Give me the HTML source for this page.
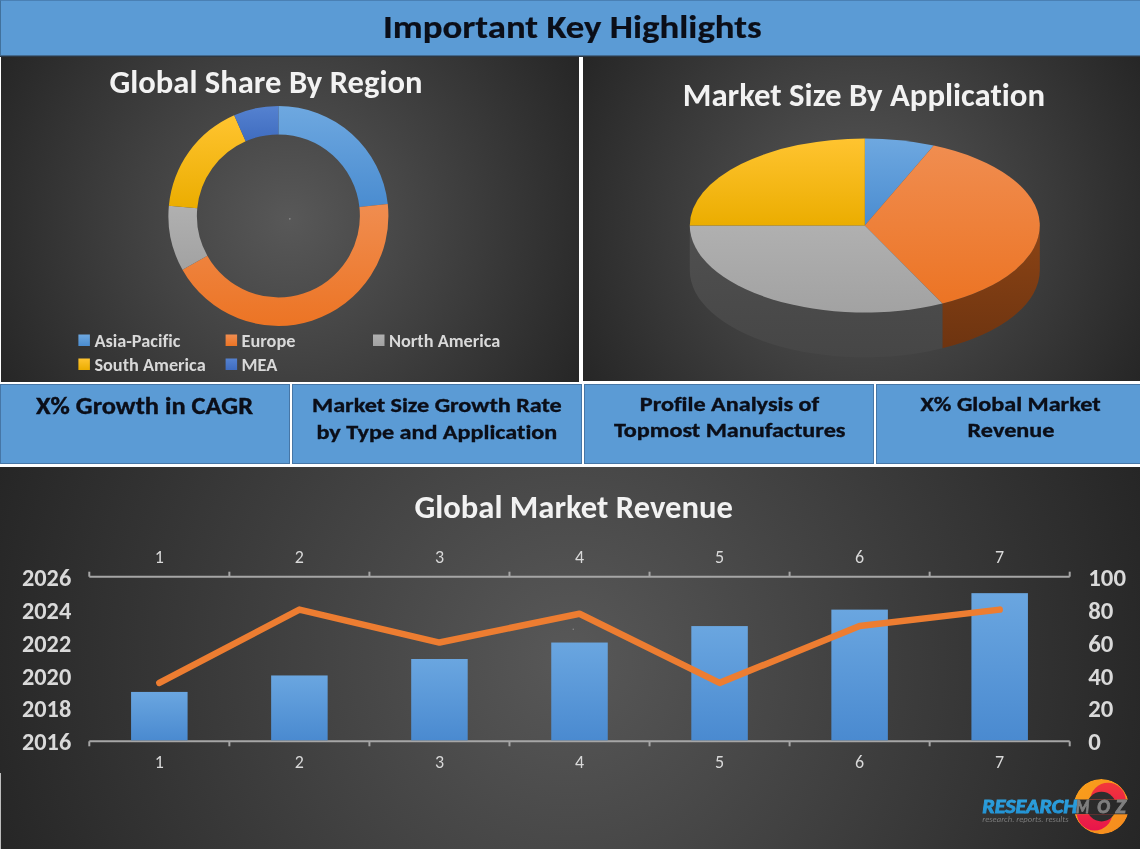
<!DOCTYPE html>
<html>
<head>
<meta charset="utf-8">
<style>
html,body{margin:0;padding:0;}
body{width:1140px;height:849px;overflow:hidden;background:#fff;position:relative;font-family:"Carlito","Liberation Sans",sans-serif;font-variant-ligatures:none;font-feature-settings:"liga" 0,"clig" 0;}
svg text{font-variant-ligatures:none;font-feature-settings:"liga" 0,"clig" 0;}
.abs{position:absolute;}
#hdr{left:0;top:0;width:1140px;height:55px;background:#5b9bd5;border-top:1px solid #4a80b4;border-left:1px solid #41719c;box-sizing:border-box;}
#hdr span{position:absolute;left:0;width:1140px;top:6px;text-align:center;font-weight:bold;font-size:36px;color:#0c0c0c;}
#hdrline{left:0;top:55px;width:1140px;height:2px;background:linear-gradient(#44698d 0%,#44698d 50%,#2b3845 50%,#2b3845 100%);}
.panel{background:#2a2a2a;}
#p1{left:1px;top:57px;width:578px;height:325px;background:radial-gradient(circle farthest-corner at 50% 50%,#585858 0%,#262626 100%);}
#p2{left:583px;top:57px;width:557px;height:324px;background:radial-gradient(circle farthest-corner at 50% 50%,#585858 0%,#262626 100%);}
#p3{left:0;top:467px;width:1140px;height:382px;background:radial-gradient(circle farthest-corner at 50% 50%,#585858 0%,#262626 100%);}
.box{background:#5b9bd5;border:1px solid #4676a6;box-sizing:border-box;top:384px;height:80px;}
.box div{position:absolute;left:0;right:0;text-align:center;font-weight:bold;color:#0a0f18;}
.t{font-weight:bold;color:#f2f2f2;white-space:nowrap;}
</style>
</head>
<body>
<div id="hdr" class="abs"></div>
<div id="hdrline" class="abs"></div>

<div id="p1" class="abs panel"></div>
<div id="p2" class="abs panel"></div>
<div id="p3" class="abs panel"></div>
<div class="abs" style="left:0;top:773px;width:1px;height:76px;background:#bdbdbd;"></div>

<div class="abs box" style="left:0;width:290px;"></div>
<div class="abs box" style="left:292px;width:290px;"></div>
<div class="abs box" style="left:584px;width:290px;"></div>
<div class="abs box" style="left:876px;width:270px;"></div>

<svg class="abs" style="left:0;top:0" width="1140" height="849" viewBox="0 0 1140 849">
  <defs>
    <linearGradient id="gBlue" x1="0" y1="0" x2="0" y2="1"><stop offset="0" stop-color="#6ea8e0"/><stop offset="1" stop-color="#4a8cd0"/></linearGradient>
    <linearGradient id="gOrange" x1="0" y1="0" x2="0" y2="1"><stop offset="0" stop-color="#f08d50"/><stop offset="1" stop-color="#ec7424"/></linearGradient>
    <linearGradient id="gGray" x1="0" y1="0" x2="0" y2="1"><stop offset="0" stop-color="#b8b8b8"/><stop offset="1" stop-color="#a0a0a0"/></linearGradient>
    <linearGradient id="gYellow" x1="0" y1="0" x2="0" y2="1"><stop offset="0" stop-color="#ffc535"/><stop offset="1" stop-color="#f0b400"/></linearGradient>
    <linearGradient id="gDBlue" x1="0" y1="0" x2="0" y2="1"><stop offset="0" stop-color="#5582d0"/><stop offset="1" stop-color="#3f6cc0"/></linearGradient>
    <linearGradient id="gBar" x1="0" y1="0" x2="0" y2="1"><stop offset="0" stop-color="#6aa6e0"/><stop offset="1" stop-color="#4a8ad0"/></linearGradient>
    <linearGradient id="gSideO" x1="0" y1="0" x2="0" y2="1"><stop offset="0" stop-color="#8c4415"/><stop offset="1" stop-color="#6e3410"/></linearGradient>
    <linearGradient id="gSideG" x1="0" y1="0" x2="0" y2="1"><stop offset="0" stop-color="#505050"/><stop offset="1" stop-color="#464646"/></linearGradient>
    <linearGradient id="gGray2" x1="0" y1="0" x2="0" y2="1"><stop offset="0" stop-color="#b0b0b0"/><stop offset="1" stop-color="#a2a2a2"/></linearGradient>
    <linearGradient id="gYellow2" x1="0" y1="0" x2="0" y2="1"><stop offset="0" stop-color="#ffc430"/><stop offset="1" stop-color="#ebad00"/></linearGradient>
  </defs>
  <g id="donut" font-family="Carlito, Liberation Sans, sans-serif"><path d="M278.4,105.9A110,110 0 0 1 387.76,204.02L359.42,207.1A81.5,81.5 0 0 0 278.4,134.4Z" fill="url(#gBlue)"/><path d="M387.76,204.02A110,110 0 0 1 182.47,269.73L207.33,255.78A81.5,81.5 0 0 0 359.42,207.1Z" fill="url(#gOrange)"/><path d="M182.47,269.73A110,110 0 0 1 168.87,205.74L197.25,208.37A81.5,81.5 0 0 0 207.33,255.78Z" fill="url(#gGray2)"/><path d="M168.87,205.74A110,110 0 0 1 234.19,115.18L245.64,141.27A81.5,81.5 0 0 0 197.25,208.37Z" fill="url(#gYellow2)"/><path d="M234.19,115.18A110,110 0 0 1 278.4,105.9L278.4,134.4A81.5,81.5 0 0 0 245.64,141.27Z" fill="url(#gDBlue)"/><circle cx="289.8" cy="218.8" r="0.9" fill="#8a8a8a"/><rect x="78.4" y="334.5" width="11.5" height="11.5" fill="url(#gBlue)"/><text textLength="85.95" lengthAdjust="spacingAndGlyphs" x="94.4" y="346.9" font-size="18.3" font-weight="bold" fill="#d9d9d9">Asia-Pacific</text><rect x="225.6" y="334.5" width="11.5" height="11.5" fill="url(#gOrange)"/><text textLength="53.86" lengthAdjust="spacingAndGlyphs" x="241.6" y="346.9" font-size="18.3" font-weight="bold" fill="#d9d9d9">Europe</text><rect x="373" y="334.5" width="11.5" height="11.5" fill="url(#gGray2)"/><text textLength="111.36" lengthAdjust="spacingAndGlyphs" x="389" y="346.9" font-size="18.3" font-weight="bold" fill="#d9d9d9">North America</text><rect x="78.4" y="358.5" width="11.5" height="11.5" fill="url(#gYellow2)"/><text textLength="111.28" lengthAdjust="spacingAndGlyphs" x="94.4" y="370.9" font-size="18.3" font-weight="bold" fill="#d9d9d9">South America</text><rect x="225.6" y="358.5" width="11.5" height="11.5" fill="url(#gDBlue)"/><text textLength="35.77" lengthAdjust="spacingAndGlyphs" x="241.6" y="370.9" font-size="18.3" font-weight="bold" fill="#d9d9d9">MEA</text></g>
  <g id="pie3d"><path d="M1039.8,225.5A175,87 0 0 1 942.34,303.49L942.34,348.29A175,87 0 0 0 1039.8,270.3Z" fill="url(#gSideO)"/><path d="M942.34,303.49A175,87 0 0 1 689.8,225.5L689.8,270.3A175,87 0 0 0 942.34,348.29Z" fill="url(#gSideG)"/><path d="M864.8,225.5L864.8,138.5A175,87 0 0 1 933.74,145.54Z" fill="url(#gBlue)"/><path d="M864.8,225.5L933.74,145.54A175,87 0 0 1 942.34,303.49Z" fill="url(#gOrange)"/><path d="M864.8,225.5L942.34,303.49A175,87 0 0 1 689.8,225.5Z" fill="url(#gGray2)"/><path d="M864.8,225.5L689.8,225.5A175,87 0 0 1 864.8,138.5Z" fill="url(#gYellow2)"/></g>
  <g id="chart" font-family="Carlito, Liberation Sans, sans-serif"><line x1="89.3" y1="576.7" x2="1069.7" y2="576.7" stroke="#a6a6a6" stroke-width="2"/><line x1="89.3" y1="741.3" x2="1069.7" y2="741.3" stroke="#a6a6a6" stroke-width="2"/><line x1="89.3" y1="576.7" x2="89.3" y2="571.7" stroke="#a6a6a6" stroke-width="2"/><line x1="89.3" y1="741.3" x2="89.3" y2="746.3" stroke="#a6a6a6" stroke-width="2"/><line x1="229.36" y1="576.7" x2="229.36" y2="571.7" stroke="#a6a6a6" stroke-width="2"/><line x1="229.36" y1="741.3" x2="229.36" y2="746.3" stroke="#a6a6a6" stroke-width="2"/><line x1="369.41" y1="576.7" x2="369.41" y2="571.7" stroke="#a6a6a6" stroke-width="2"/><line x1="369.41" y1="741.3" x2="369.41" y2="746.3" stroke="#a6a6a6" stroke-width="2"/><line x1="509.47" y1="576.7" x2="509.47" y2="571.7" stroke="#a6a6a6" stroke-width="2"/><line x1="509.47" y1="741.3" x2="509.47" y2="746.3" stroke="#a6a6a6" stroke-width="2"/><line x1="649.53" y1="576.7" x2="649.53" y2="571.7" stroke="#a6a6a6" stroke-width="2"/><line x1="649.53" y1="741.3" x2="649.53" y2="746.3" stroke="#a6a6a6" stroke-width="2"/><line x1="789.59" y1="576.7" x2="789.59" y2="571.7" stroke="#a6a6a6" stroke-width="2"/><line x1="789.59" y1="741.3" x2="789.59" y2="746.3" stroke="#a6a6a6" stroke-width="2"/><line x1="929.64" y1="576.7" x2="929.64" y2="571.7" stroke="#a6a6a6" stroke-width="2"/><line x1="929.64" y1="741.3" x2="929.64" y2="746.3" stroke="#a6a6a6" stroke-width="2"/><line x1="1069.7" y1="576.7" x2="1069.7" y2="571.7" stroke="#a6a6a6" stroke-width="2"/><line x1="1069.7" y1="741.3" x2="1069.7" y2="746.3" stroke="#a6a6a6" stroke-width="2"/><rect x="131.08" y="691.92" width="56.5" height="48.38" fill="url(#gBar)"/><rect x="271.14" y="675.46" width="56.5" height="64.84" fill="url(#gBar)"/><rect x="411.19" y="659" width="56.5" height="81.3" fill="url(#gBar)"/><rect x="551.25" y="642.54" width="56.5" height="97.76" fill="url(#gBar)"/><rect x="691.31" y="626.08" width="56.5" height="114.22" fill="url(#gBar)"/><rect x="831.36" y="609.62" width="56.5" height="130.68" fill="url(#gBar)"/><rect x="971.42" y="593.16" width="56.5" height="147.14" fill="url(#gBar)"/><polyline points="159.33,682.87 299.39,609.62 439.44,642.54 579.5,613.74 719.56,682.87 859.61,626.08 999.67,609.62" fill="none" stroke="#ed7d31" stroke-width="6.5" stroke-linejoin="round" stroke-linecap="round"/><circle cx="573.3" cy="629.3" r="0.8" fill="#8a8a8a"/><text textLength="9.12" lengthAdjust="spacingAndGlyphs" x="159.33" y="563" font-size="18" fill="#d9d9d9" text-anchor="middle">1</text><text textLength="9.12" lengthAdjust="spacingAndGlyphs" x="159.33" y="768" font-size="18" fill="#d9d9d9" text-anchor="middle">1</text><text textLength="9.12" lengthAdjust="spacingAndGlyphs" x="299.39" y="563" font-size="18" fill="#d9d9d9" text-anchor="middle">2</text><text textLength="9.12" lengthAdjust="spacingAndGlyphs" x="299.39" y="768" font-size="18" fill="#d9d9d9" text-anchor="middle">2</text><text textLength="9.12" lengthAdjust="spacingAndGlyphs" x="439.44" y="563" font-size="18" fill="#d9d9d9" text-anchor="middle">3</text><text textLength="9.12" lengthAdjust="spacingAndGlyphs" x="439.44" y="768" font-size="18" fill="#d9d9d9" text-anchor="middle">3</text><text textLength="9.12" lengthAdjust="spacingAndGlyphs" x="579.5" y="563" font-size="18" fill="#d9d9d9" text-anchor="middle">4</text><text textLength="9.12" lengthAdjust="spacingAndGlyphs" x="579.5" y="768" font-size="18" fill="#d9d9d9" text-anchor="middle">4</text><text textLength="9.12" lengthAdjust="spacingAndGlyphs" x="719.56" y="563" font-size="18" fill="#d9d9d9" text-anchor="middle">5</text><text textLength="9.12" lengthAdjust="spacingAndGlyphs" x="719.56" y="768" font-size="18" fill="#d9d9d9" text-anchor="middle">5</text><text textLength="9.12" lengthAdjust="spacingAndGlyphs" x="859.61" y="563" font-size="18" fill="#d9d9d9" text-anchor="middle">6</text><text textLength="9.12" lengthAdjust="spacingAndGlyphs" x="859.61" y="768" font-size="18" fill="#d9d9d9" text-anchor="middle">6</text><text textLength="9.12" lengthAdjust="spacingAndGlyphs" x="999.67" y="563" font-size="18" fill="#d9d9d9" text-anchor="middle">7</text><text textLength="9.12" lengthAdjust="spacingAndGlyphs" x="999.67" y="768" font-size="18" fill="#d9d9d9" text-anchor="middle">7</text><text textLength="47.63" lengthAdjust="spacingAndGlyphs" transform="translate(71.2,750.4) scale(1.035,1)" font-size="23.5" font-weight="bold" fill="#d9d9d9" text-anchor="end">2016</text><text textLength="11.91" lengthAdjust="spacingAndGlyphs" transform="translate(1088.3,750.4) scale(1.056,1)" font-size="23.5" font-weight="bold" fill="#d9d9d9">0</text><text textLength="47.63" lengthAdjust="spacingAndGlyphs" transform="translate(71.2,717.48) scale(1.035,1)" font-size="23.5" font-weight="bold" fill="#d9d9d9" text-anchor="end">2018</text><text textLength="23.82" lengthAdjust="spacingAndGlyphs" transform="translate(1088.3,717.48) scale(1.056,1)" font-size="23.5" font-weight="bold" fill="#d9d9d9">20</text><text textLength="47.63" lengthAdjust="spacingAndGlyphs" transform="translate(71.2,684.56) scale(1.035,1)" font-size="23.5" font-weight="bold" fill="#d9d9d9" text-anchor="end">2020</text><text textLength="23.82" lengthAdjust="spacingAndGlyphs" transform="translate(1088.3,684.56) scale(1.056,1)" font-size="23.5" font-weight="bold" fill="#d9d9d9">40</text><text textLength="47.63" lengthAdjust="spacingAndGlyphs" transform="translate(71.2,651.64) scale(1.035,1)" font-size="23.5" font-weight="bold" fill="#d9d9d9" text-anchor="end">2022</text><text textLength="23.82" lengthAdjust="spacingAndGlyphs" transform="translate(1088.3,651.64) scale(1.056,1)" font-size="23.5" font-weight="bold" fill="#d9d9d9">60</text><text textLength="47.63" lengthAdjust="spacingAndGlyphs" transform="translate(71.2,618.72) scale(1.035,1)" font-size="23.5" font-weight="bold" fill="#d9d9d9" text-anchor="end">2024</text><text textLength="23.82" lengthAdjust="spacingAndGlyphs" transform="translate(1088.3,618.72) scale(1.056,1)" font-size="23.5" font-weight="bold" fill="#d9d9d9">80</text><text textLength="47.63" lengthAdjust="spacingAndGlyphs" transform="translate(71.2,585.8) scale(1.035,1)" font-size="23.5" font-weight="bold" fill="#d9d9d9" text-anchor="end">2026</text><text textLength="35.72" lengthAdjust="spacingAndGlyphs" transform="translate(1088.3,585.8) scale(1.056,1)" font-size="23.5" font-weight="bold" fill="#d9d9d9">100</text></g>
  <g id="texts" font-family="Carlito, Liberation Sans, sans-serif"><text textLength="335.25" lengthAdjust="spacingAndGlyphs" transform="translate(572.3,37.6) scale(1.13,1)" font-size="32.6" font-weight="bold" fill="#0b0e18" text-anchor="middle" stroke="#0b0e18" stroke-width="0.2">Important Key Highlights</text><text textLength="309.85" lengthAdjust="spacingAndGlyphs" transform="translate(266,92.9) scale(1.01,1)" font-size="32.3" font-weight="bold" fill="#f2f2f2" text-anchor="middle">Global Share By Region</text><text textLength="356.98" lengthAdjust="spacingAndGlyphs" transform="translate(863.9,106) scale(1.015,1)" font-size="32.3" font-weight="bold" fill="#f2f2f2" text-anchor="middle">Market Size By Application</text><text textLength="312.19" lengthAdjust="spacingAndGlyphs" transform="translate(573.7,517.6) scale(1.02,1)" font-size="32" font-weight="bold" fill="#f2f2f2" text-anchor="middle">Global Market Revenue</text><text textLength="192.03" lengthAdjust="spacingAndGlyphs" transform="translate(144.5,413.9) scale(1.13,1)" font-size="23.4" font-weight="bold" fill="#0b0e18" text-anchor="middle" stroke="#0b0e18" stroke-width="0.35">X% Growth in CAGR</text><text textLength="211.64" lengthAdjust="spacingAndGlyphs" transform="translate(436.9,412.2) scale(1.18,1)" font-size="20.5" font-weight="bold" fill="#0b0e18" text-anchor="middle" stroke="#0b0e18" stroke-width="0.35">Market Size Growth Rate</text><text textLength="204.08" lengthAdjust="spacingAndGlyphs" transform="translate(436.9,438.5) scale(1.18,1)" font-size="20.5" font-weight="bold" fill="#0b0e18" text-anchor="middle" stroke="#0b0e18" stroke-width="0.35">by Type and Application</text><text textLength="152.08" lengthAdjust="spacingAndGlyphs" transform="translate(729.5,410.7) scale(1.18,1)" font-size="20.5" font-weight="bold" fill="#0b0e18" text-anchor="middle" stroke="#0b0e18" stroke-width="0.35">Profile Analysis of</text><text textLength="196.22" lengthAdjust="spacingAndGlyphs" transform="translate(729.7,436.9) scale(1.18,1)" font-size="20.5" font-weight="bold" fill="#0b0e18" text-anchor="middle" stroke="#0b0e18" stroke-width="0.35">Topmost Manufactures</text><text textLength="152.58" lengthAdjust="spacingAndGlyphs" transform="translate(1010.5,410.7) scale(1.18,1)" font-size="20.5" font-weight="bold" fill="#0b0e18" text-anchor="middle" stroke="#0b0e18" stroke-width="0.35">X% Global Market</text><text textLength="73.57" lengthAdjust="spacingAndGlyphs" transform="translate(1011,436.9) scale(1.18,1)" font-size="20.5" font-weight="bold" fill="#0b0e18" text-anchor="middle" stroke="#0b0e18" stroke-width="0.35">Revenue</text></g>
  <g id="logo" font-family="Carlito, Liberation Sans, sans-serif"><defs><clipPath id="cTop"><rect x="1060" y="770" width="80" height="29.4"/></clipPath><clipPath id="cBot"><rect x="1060" y="814.2" width="80" height="40"/></clipPath><clipPath id="cRing"><circle cx="1101.3" cy="806.6" r="27.6"/></clipPath><linearGradient id="gLogoO" x1="0" y1="0" x2="1" y2="1"><stop offset="0" stop-color="#f9a01b"/><stop offset="1" stop-color="#f58a1f"/></linearGradient><linearGradient id="gLogoR" x1="0" y1="0" x2="0" y2="1"><stop offset="0" stop-color="#f2393a"/><stop offset="1" stop-color="#e8144c"/></linearGradient><linearGradient id="gRes" x1="0" y1="0" x2="0" y2="1"><stop offset="0" stop-color="#31a4e0"/><stop offset="1" stop-color="#1f8fd2"/></linearGradient></defs><g clip-path="url(#cTop)"><g clip-path="url(#cRing)"><circle cx="1101.3" cy="806.6" r="27.6" fill="url(#gLogoO)"/><circle cx="1108" cy="800.5" r="17.8" fill="url(#gLogoR)"/></g><circle cx="1101.5" cy="806.6" r="14.8" fill="#2e2e2e"/></g><g clip-path="url(#cBot)"><g clip-path="url(#cRing)"><circle cx="1101.3" cy="806.6" r="27.6" fill="url(#gLogoO)"/><circle cx="1094.6" cy="812.7" r="17.8" fill="url(#gLogoR)"/></g><circle cx="1101.5" cy="806.6" r="14.8" fill="#2e2e2e"/></g><text textLength="89.25" lengthAdjust="spacingAndGlyphs" transform="translate(982.2,813.2) scale(1.063,1)" font-size="20.8" font-weight="bold" font-style="italic" fill="url(#gRes)" stroke="url(#gRes)" stroke-width="0.9">RESEARCH</text><text textLength="17.47" lengthAdjust="spacingAndGlyphs" transform="translate(1076.0,812.9) scale(0.76,1)" font-size="20" font-weight="bold" font-style="italic" fill="#7f7f7f" stroke="#7f7f7f" stroke-width="0.9">M</text><text textLength="13.38" lengthAdjust="spacingAndGlyphs" transform="translate(1097.2,812.9) scale(0.95,1)" font-size="20" font-weight="bold" font-style="italic" fill="#7f7f7f" stroke="#7f7f7f" stroke-width="0.9">O</text><text textLength="9.56" lengthAdjust="spacingAndGlyphs" transform="translate(1115.6,812.9) scale(1.08,1)" font-size="20" font-weight="bold" font-style="italic" fill="#7f7f7f" stroke="#7f7f7f" stroke-width="0.9">Z</text><text textLength="88.11" lengthAdjust="spacingAndGlyphs" transform="translate(982.2,821.6) scale(0.98,1)" font-size="8.8" font-style="italic" fill="#7a7a7a">research. reports. results</text></g>
</svg>


</body>
</html>
